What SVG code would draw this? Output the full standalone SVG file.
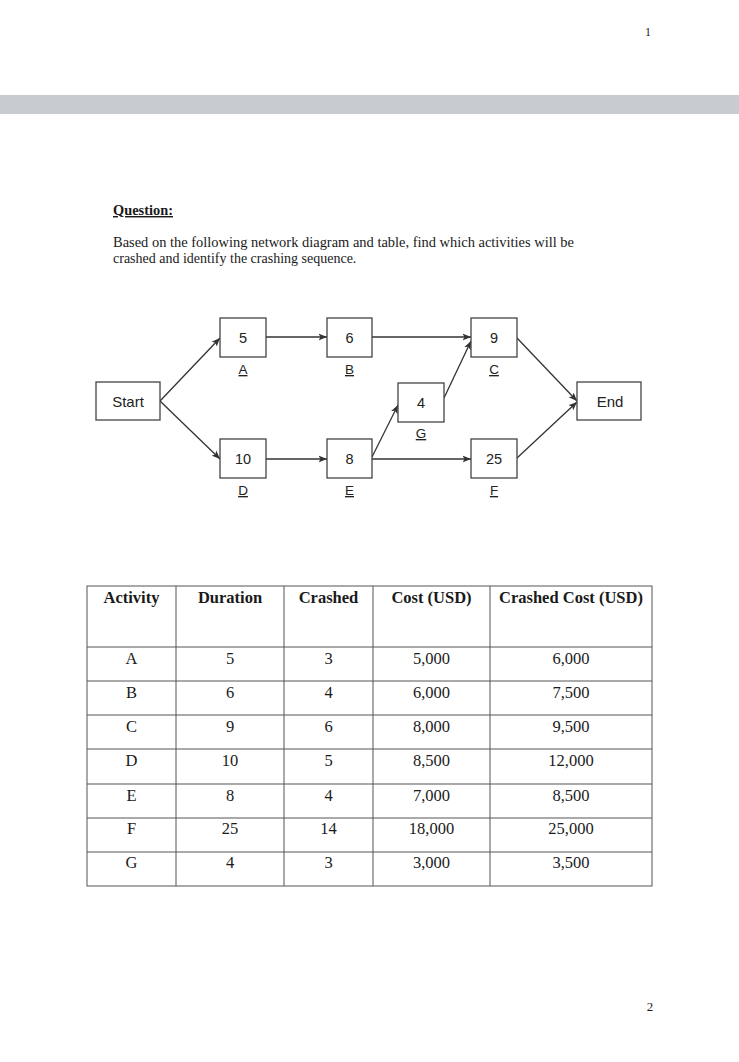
<svg xmlns="http://www.w3.org/2000/svg" width="739" height="1062" viewBox="0 0 739 1062">
<style>
.serif{font-family:"Liberation Serif","Times New Roman",serif;fill:#1a1a1a}
.sans{font-family:"Liberation Sans",Arial,sans-serif;fill:#222}
.box{fill:#fff;stroke:#444;stroke-width:1.3}
.num{font-size:14.5px;text-anchor:middle}
.lbl{font-size:13.5px;text-anchor:middle;text-decoration:underline}
.conn{stroke:#333;stroke-width:1.3;fill:none;marker-end:url(#arr)}
.grid{stroke:#555;stroke-width:1;fill:none}
.th{font-size:16.5px;font-weight:bold;text-anchor:middle}
.td{font-size:16.5px;text-anchor:middle}
</style>
<defs>
<marker id="arr" markerWidth="9" markerHeight="8" refX="8.5" refY="4" orient="auto" markerUnits="userSpaceOnUse">
<path d="M0,0.5 L8.5,4 L0,7.5 L2,4 Z" fill="#333"/>
</marker>
</defs>
<rect width="739" height="1062" fill="#fff"/>
<text class="serif" x="648" y="36" font-size="12" text-anchor="middle">1</text>
<rect x="0" y="95" width="739" height="19" fill="#c8ccd0"/>
<text class="serif" x="113" y="215" font-size="14.4" font-weight="bold" text-decoration="underline">Question:</text>
<text class="serif" x="113" y="247" font-size="14" textLength="461" lengthAdjust="spacingAndGlyphs">Based on the following network diagram and table, find which activities will be</text>
<text class="serif" x="113" y="263" font-size="14">crashed and identify the crashing sequence.</text>

<g id="connectors">
<path class="conn" d="M160,401 L220,338"/>
<path class="conn" d="M160,401 L220,459"/>
<path class="conn" d="M266,337 L327,337"/>
<path class="conn" d="M266,459 L327,459"/>
<path class="conn" d="M372,337 L471,337"/>
<path class="conn" d="M372,459 L471,459"/>
<path class="conn" d="M372,457 L398,405"/>
<path class="conn" d="M444,398 L471,341"/>
<path class="conn" d="M517,338 L577,401"/>
<path class="conn" d="M517,458 L577,402"/>
</g>

<g id="node-start"><rect class="box" x="96" y="382" width="64" height="38"/><text class="sans" x="128" y="406.5" font-size="15" text-anchor="middle">Start</text></g>
<g id="node-A"><rect class="box" x="220" y="318" width="46" height="39"/><text class="sans num" x="243" y="342.5">5</text><text class="sans lbl" x="243" y="374">A</text></g>
<g id="node-B"><rect class="box" x="327" y="318" width="45" height="39"/><text class="sans num" x="349.5" y="342.5">6</text><text class="sans lbl" x="349.5" y="374">B</text></g>
<g id="node-C"><rect class="box" x="471" y="318" width="46" height="39"/><text class="sans num" x="494" y="342.5">9</text><text class="sans lbl" x="494" y="374">C</text></g>
<g id="node-G"><rect class="box" x="398" y="383" width="46" height="39"/><text class="sans num" x="421" y="407.5">4</text><text class="sans lbl" x="421" y="438">G</text></g>
<g id="node-D"><rect class="box" x="220" y="439" width="46" height="39"/><text class="sans num" x="243" y="464">10</text><text class="sans lbl" x="243" y="495">D</text></g>
<g id="node-E"><rect class="box" x="327" y="439" width="45" height="39"/><text class="sans num" x="349.5" y="464">8</text><text class="sans lbl" x="349.5" y="495">E</text></g>
<g id="node-F"><rect class="box" x="471" y="439" width="46" height="39"/><text class="sans num" x="494" y="464">25</text><text class="sans lbl" x="494" y="495">F</text></g>
<g id="node-end"><rect class="box" x="577" y="382" width="64" height="38"/><text class="sans" x="610" y="406.5" font-size="15" text-anchor="middle">End</text></g>

<g id="table">
<rect class="grid" x="87" y="586" width="565" height="300" stroke="#777"/>
<path class="grid" d="M176,586 V886 M284,586 V886 M373,586 V886 M490,586 V886 M87,647 H652 M87,681 H652 M87,715 H652 M87,749 H652 M87,784 H652 M87,818 H652 M87,852 H652"/>
<g class="serif th">
<text class="serif th" x="131.5" y="603">Activity</text>
<text class="serif th" x="230" y="603">Duration</text>
<text class="serif th" x="328.5" y="603">Crashed</text>
<text class="serif th" x="431.5" y="603">Cost (USD)</text>
<text class="serif th" x="571" y="603">Crashed Cost (USD)</text>
</g>
<g>
<text class="serif td" x="131.5" y="664">A</text><text class="serif td" x="230" y="664">5</text><text class="serif td" x="328.5" y="664">3</text><text class="serif td" x="431.5" y="664">5,000</text><text class="serif td" x="571" y="664">6,000</text>
<text class="serif td" x="131.5" y="698">B</text><text class="serif td" x="230" y="698">6</text><text class="serif td" x="328.5" y="698">4</text><text class="serif td" x="431.5" y="698">6,000</text><text class="serif td" x="571" y="698">7,500</text>
<text class="serif td" x="131.5" y="732">C</text><text class="serif td" x="230" y="732">9</text><text class="serif td" x="328.5" y="732">6</text><text class="serif td" x="431.5" y="732">8,000</text><text class="serif td" x="571" y="732">9,500</text>
<text class="serif td" x="131.5" y="766">D</text><text class="serif td" x="230" y="766">10</text><text class="serif td" x="328.5" y="766">5</text><text class="serif td" x="431.5" y="766">8,500</text><text class="serif td" x="571" y="766">12,000</text>
<text class="serif td" x="131.5" y="801">E</text><text class="serif td" x="230" y="801">8</text><text class="serif td" x="328.5" y="801">4</text><text class="serif td" x="431.5" y="801">7,000</text><text class="serif td" x="571" y="801">8,500</text>
<text class="serif td" x="131.5" y="834">F</text><text class="serif td" x="230" y="834">25</text><text class="serif td" x="328.5" y="834">14</text><text class="serif td" x="431.5" y="834">18,000</text><text class="serif td" x="571" y="834">25,000</text>
<text class="serif td" x="131.5" y="868">G</text><text class="serif td" x="230" y="868">4</text><text class="serif td" x="328.5" y="868">3</text><text class="serif td" x="431.5" y="868">3,000</text><text class="serif td" x="571" y="868">3,500</text>
</g>
</g>
<text class="serif" x="650" y="1011" font-size="13" text-anchor="middle">2</text>
</svg>
